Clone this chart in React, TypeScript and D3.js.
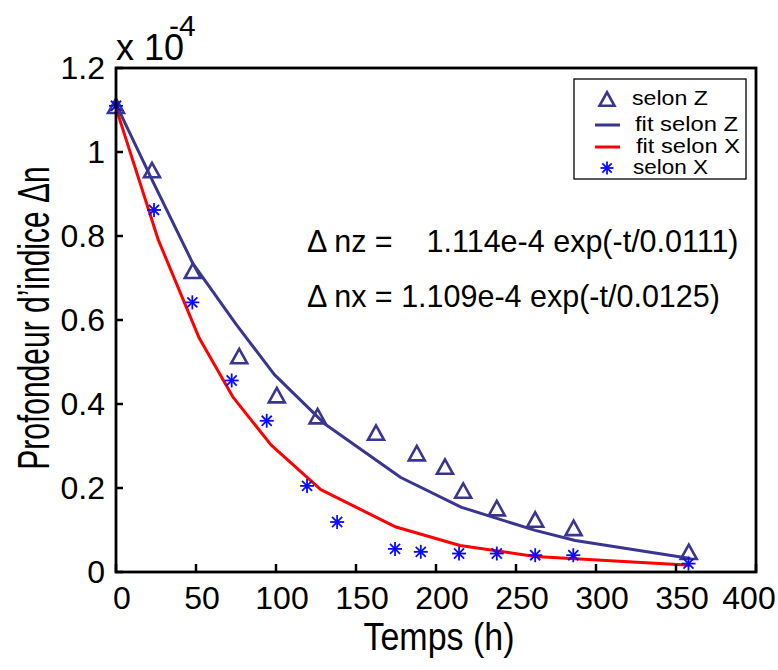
import React from 'react';
import * as d3 from 'd3';

// ---- data (values in units of 1e-4) ----
const xTickValues = [0, 50, 100, 150, 200, 250, 300, 350, 400];
const yTickValues = [0, 0.2, 0.4, 0.6, 0.8, 1, 1.2];
const yTickLabels = ['0', '0.2', '0.4', '0.6', '0.8', '1', '1.2'];

const selonZTimes = [0, 22.5, 48, 77, 100.5, 126, 162.5, 188, 205.6, 217, 238, 262, 286, 358];
const selonZValues = [1.11, 0.957, 0.717, 0.514, 0.421, 0.371, 0.332, 0.283, 0.251, 0.194, 0.152, 0.125, 0.105, 0.048];

const selonXTimes = [0, 23.75, 47.7, 72.3, 94.2, 119.4, 138.2, 174.4, 190.5, 214.4, 238, 262, 285.8, 357.8];
const selonXValues = [1.11, 0.862, 0.642, 0.456, 0.36, 0.205, 0.119, 0.055, 0.048, 0.044, 0.044, 0.04, 0.04, 0.02];

const fitZTimes = [0, 23, 48, 75, 99, 131, 178, 216, 262, 287, 359];
const fitZValues = [1.114, 0.93, 0.735, 0.59, 0.47, 0.351, 0.225, 0.154, 0.099, 0.075, 0.032];

const fitXTimes = [0, 26.5, 52, 73, 97, 128, 175, 215, 262, 359];
const fitXValues = [1.105, 0.79, 0.557, 0.417, 0.302, 0.196, 0.107, 0.063, 0.037, 0.016];

const legendLabels = ['selon Z', 'fit selon Z', 'fit selon X', 'selon X'];
const equationLines = [
  '\u0394 nz =\u00a0\u00a0\u00a0 1.114e-4 exp(-t/0.0111)',
  '\u0394 nx = 1.109e-4 exp(-t/0.0125)',
];

const FONT = '"Liberation Sans", Arial, Helvetica, sans-serif';
const C_Z = '#3a3590';
const C_X = '#ff0000';
const C_STAR = '#0a0aff';

const W = 778, H = 670;
const M = { left: 116, top: 68, right: 756, bottom: 572 };

function Triangle({ cx, cy, s = 16 }: { cx: number; cy: number; s?: number }) {
  const h = s * 0.9;
  const p = `M${cx},${cy - h / 2} L${cx + s / 2},${cy + h / 2} L${cx - s / 2},${cy + h / 2} Z`;
  return <path d={p} fill="none" stroke={C_Z} strokeWidth={2.6} strokeLinejoin="miter" />;
}

function Star({ cx, cy, r = 7 }: { cx: number; cy: number; r?: number }) {
  const d = r * 0.72;
  return (
    <g stroke={C_STAR} strokeWidth={1.8}>
      <line x1={cx - r} y1={cy} x2={cx + r} y2={cy} />
      <line x1={cx} y1={cy - r} x2={cx} y2={cy + r} />
      <line x1={cx - d} y1={cy - d} x2={cx + d} y2={cy + d} />
      <line x1={cx - d} y1={cy + d} x2={cx + d} y2={cy - d} />
    </g>
  );
}

export default function App() {
  const x = d3.scaleLinear().domain([0, 400]).range([M.left, M.right]);
  const y = d3.scaleLinear().domain([0, 1.2]).range([M.bottom, M.top]);

  const line = d3.line<[number, number]>().x(d => x(d[0])).y(d => y(d[1]));
  const fitZ = line(fitZTimes.map((t, i) => [t, fitZValues[i]]));
  const fitX = line(fitXTimes.map((t, i) => [t, fitXValues[i]]));

  return (
    <svg width={W} height={H} style={{ position: 'absolute', left: 0, top: 0, background: '#fff' }} fontFamily={FONT}>
      <rect x={0} y={0} width={W} height={H} fill="#fff" />

      {/* fit lines */}
      <path d={fitZ || ''} fill="none" stroke={C_Z} strokeWidth={3} strokeLinejoin="round" />
      <path d={fitX || ''} fill="none" stroke={C_X} strokeWidth={3} strokeLinejoin="round" />

      {/* markers */}
      {selonZTimes.map((t, i) => (
        <Triangle key={'z' + i} cx={x(t)} cy={y(selonZValues[i])} />
      ))}
      {selonXTimes.map((t, i) => (
        <Star key={'x' + i} cx={x(t)} cy={y(selonXValues[i])} />
      ))}

      {/* frame */}
      <rect x={M.left} y={M.top} width={M.right - M.left} height={M.bottom - M.top} fill="none" stroke="#000" strokeWidth={2.8} />

      {/* x ticks */}
      {xTickValues.map(v => (
        <g key={'xt' + v}>
          <line x1={x(v)} x2={x(v)} y1={M.bottom} y2={M.bottom - 8} stroke="#000" strokeWidth={2.5} />
          <text x={Math.min(x(v) + 6, W - 29)} y={609} fontSize={32} textAnchor="middle" fill="#000">{v}</text>
        </g>
      ))}
      {/* y ticks */}
      {yTickValues.map((v, i) => (
        <g key={'yt' + v}>
          <line x1={M.left} x2={M.left + 7} y1={y(v)} y2={y(v)} stroke="#000" strokeWidth={2.5} />
          <text x={105} y={y(v) + 11} fontSize={32} textAnchor="end" fill="#000">{yTickLabels[i]}</text>
        </g>
      ))}

      {/* exponent */}
      <text x={116} y={60} fontSize={36} fill="#000">x 10</text>
      <text x={169} y={36} fontSize={30} fill="#000">-4</text>

      {/* axis titles */}
      <text transform="translate(439,650) scale(1,1.15)" fontSize={34} textAnchor="middle" fill="#000">Temps (h)</text>
      <text transform={`translate(49,${(M.top + M.bottom) / 2 - 2}) rotate(-90) scale(1,1.5)`} fontSize={30} textAnchor="middle" fill="#000">
        Profondeur d’indice Δn
      </text>

      {/* equations */}
      <text x={307} y={252} fontSize={30.5} fill="#000">{equationLines[0]}</text>
      <text x={307} y={307} fontSize={30.5} fill="#000">{equationLines[1]}</text>

      {/* legend */}
      <rect x={574} y={79} width={172} height={100} fill="#fff" stroke="#000" strokeWidth={1.3} />
      <Triangle cx={607} cy={99} s={15} />
      <text x={632} y={105} fontSize={20} textLength={76} lengthAdjust="spacingAndGlyphs" fill="#000">{legendLabels[0]}</text>
      <line x1={595} x2={620} y1={125} y2={125} stroke={C_Z} strokeWidth={3} />
      <text x={635} y={131} fontSize={20} textLength={103} lengthAdjust="spacingAndGlyphs" fill="#000">{legendLabels[1]}</text>
      <line x1={595} x2={620} y1={147} y2={147} stroke={C_X} strokeWidth={3} />
      <text x={636} y={153} fontSize={20} textLength={104} lengthAdjust="spacingAndGlyphs" fill="#000">{legendLabels[2]}</text>
      <Star cx={607} cy={168} r={6.5} />
      <text x={633} y={174} fontSize={20} textLength={75} lengthAdjust="spacingAndGlyphs" fill="#000">{legendLabels[3]}</text>
    </svg>
  );
}
